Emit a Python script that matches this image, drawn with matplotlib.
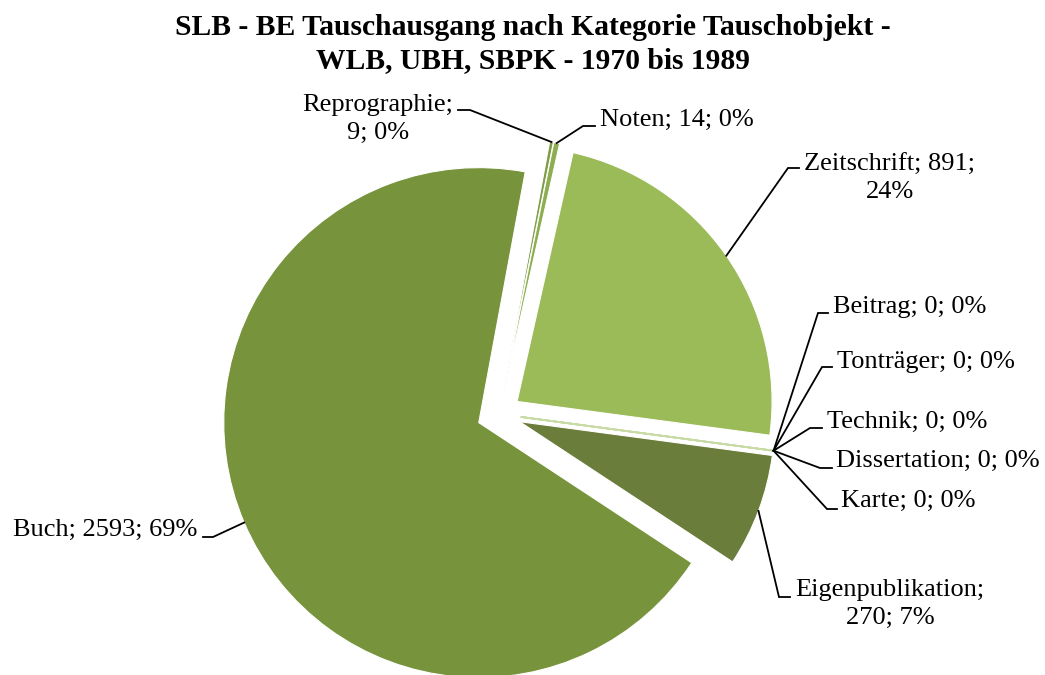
import numpy as np
import matplotlib
matplotlib.use("Agg")
import matplotlib.pyplot as plt

W, H = 1045, 675

# data, in drawing order (clockwise from the top)
categories = ["Reprographie", "Noten", "Zeitschrift", "Beitrag", "Tonträger",
              "Technik", "Dissertation", "Karte", "Eigenpublikation", "Buch"]
counts = [9, 14, 891, 0, 0, 0, 0, 0, 270, 2593]
percent_labels = ["0%", "0%", "24%", "0%", "0%", "0%", "0%", "0%", "7%", "69%"]
colors = ["#7E9C45", "#8DAE50", "#9BBB59", "#C9DBA5", "#C9DBA5",
          "#C9DBA5", "#C9DBA5", "#C9DBA5", "#6A7D3A", "#77933C"]

# label layout in pixels (y down): elbow point of leader, end of the short
# horizontal piece, text anchor and alignment
label_layout = {
    "Reprographie":     dict(elbow=(470, 110), end=(458, 110), text=(378, 119), ha="center", wrap=True),
    "Noten":            dict(elbow=(583, 126), end=(595, 126), text=(600, 120), ha="left", wrap=False),
    "Zeitschrift":      dict(elbow=(788, 168), end=(799, 168), text=(890, 178), ha="center", wrap="Z"),
    "Beitrag":          dict(elbow=(818, 313), end=(828, 313), text=(833, 307), ha="left", wrap=False),
    "Tonträger":        dict(elbow=(822, 367), end=(832, 367), text=(837, 362), ha="left", wrap=False),
    "Technik":          dict(elbow=(810, 428), end=(822, 428), text=(827, 422), ha="left", wrap=False),
    "Dissertation":     dict(elbow=(820, 468), end=(832, 468), text=(836, 461), ha="left", wrap=False),
    "Karte":            dict(elbow=(827, 509), end=(837, 509), text=(841, 501), ha="left", wrap=False),
    "Eigenpublikation": dict(elbow=(779, 597), end=(790, 597), text=(890, 604), ha="center", wrap=True),
    "Buch":             dict(elbow=(213, 537), end=(203, 537), text=(105, 530), ha="center", wrap=False),
}


def up(x, y):
    return x, H - y


fig = plt.figure(figsize=(W / 100, H / 100), dpi=100)
ax = fig.add_axes([0, 0, 1, 1])

radius = 255
center = up(499, 414)
# explode is in data units here (pixels), same gap for every slice
wedges, _ = ax.pie(counts, colors=colors, startangle=79.5, counterclock=False,
                   radius=radius, center=center, explode=[22] * len(counts),
                   wedgeprops=dict(edgecolor="white", linewidth=0.8), frame=True)

for w, cat, n, pct, col in zip(wedges, categories, counts, percent_labels, colors):
    if n == 0:
        # empty slices only show as a faint radial line
        w.set_edgecolor(col)
        w.set_linewidth(1.2)
    lay = label_layout[cat]
    mid = np.deg2rad((w.theta1 + w.theta2) / 2)
    ax_x = w.center[0] + w.r * np.cos(mid)
    ax_y = w.center[1] + w.r * np.sin(mid)
    ex, ey = up(*lay["elbow"])
    fx, fy = up(*lay["end"])
    ax.plot([ax_x, ex, fx], [ax_y, ey, fy], color="black", lw=1.3,
            solid_joinstyle="miter")
    if lay["wrap"] is True:
        txt = f"{cat};\n{n}; {pct}"
    elif lay["wrap"] == "Z":
        txt = f"{cat}; {n};\n{pct}"
    else:
        txt = f"{cat}; {n}; {pct}"
    tx, ty = up(*lay["text"])
    ax.text(tx, ty, txt, ha=lay["ha"], va="center", multialignment="center",
            fontsize=19, family=["Liberation Serif", "DejaVu Serif"],
            linespacing=1.3)

ax.text(*up(533, 44), "SLB - BE Tauschausgang nach Kategorie Tauschobjekt -\nWLB, UBH, SBPK - 1970 bis 1989",
        ha="center", va="center", fontsize=21.3, fontweight="bold",
        family=["Liberation Serif", "DejaVu Serif"], linespacing=1.25)

ax.set_xlim(0, W)
ax.set_ylim(0, H)
ax.set_aspect("equal")
ax.axis("off")

fig.savefig("out.png", dpi=100)
